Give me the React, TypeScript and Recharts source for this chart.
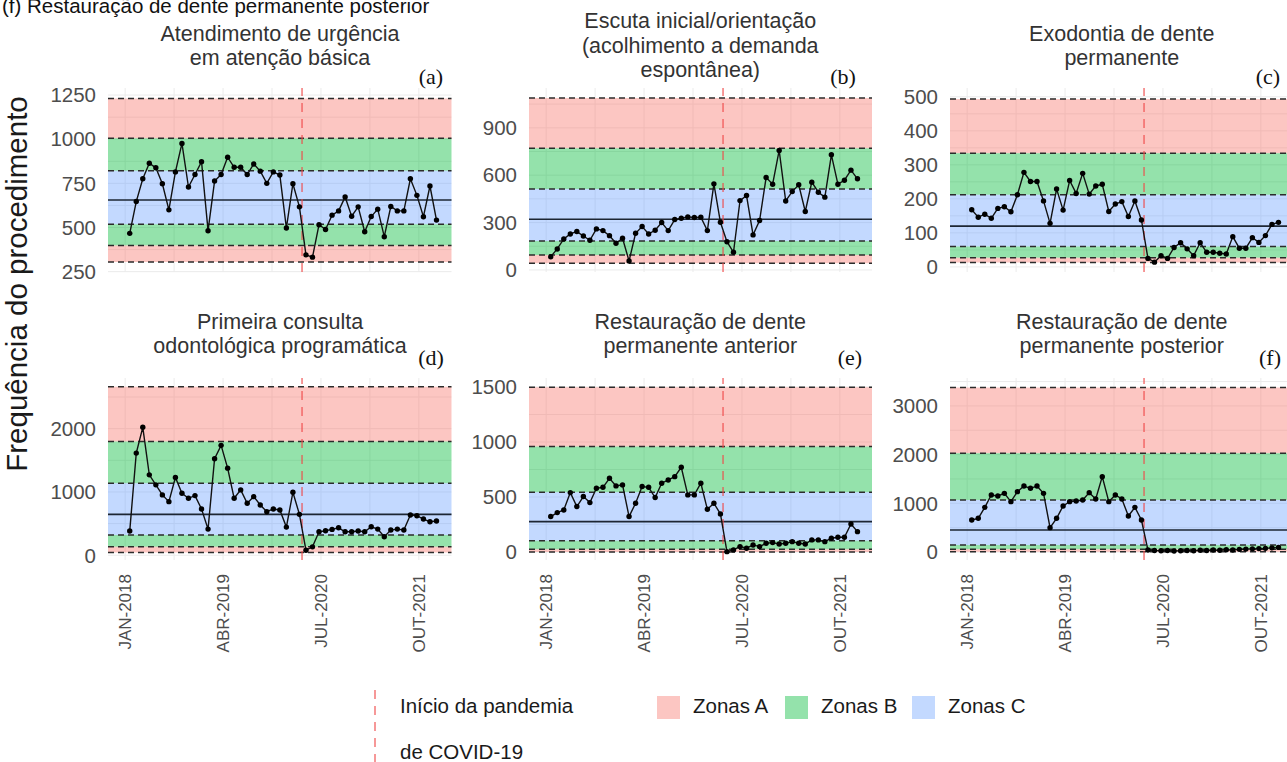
import React from "react";
import {
  ComposedChart,
  Line,
  XAxis,
  YAxis,
  CartesianGrid,
  ReferenceArea,
  ReferenceLine,
} from "recharts";

// eixo x = indice do mes (0 = JAN-2018 ... 47 = DEZ-2021)
const xTickValues = [-0.7, 14.3, 29.3, 44.3];
const xTickLabels = ["JAN-2018", "ABR-2019", "JUL-2020", "OUT-2021"];
const xMinor = [6.8, 21.8, 36.8];
const inicioPandemia = 26.4;

// series mensais
const urgencia = [467, 647, 776, 864, 838, 748, 600, 815, 976, 729, 800, 873, 482, 763, 800, 898, 841, 841, 800, 860, 819, 750, 815, 797, 497, 748, 617, 345, 332, 516, 489, 570, 594, 673, 564, 617, 476, 562, 604, 448, 619, 594, 594, 776, 682, 561, 735, 542];
const escuta = [84, 133, 196, 228, 243, 215, 188, 260, 249, 217, 169, 201, 57, 232, 275, 228, 251, 300, 249, 319, 327, 336, 332, 334, 249, 545, 302, 179, 112, 439, 471, 222, 313, 585, 543, 757, 437, 496, 539, 370, 556, 492, 461, 729, 543, 568, 632, 577];
const exodontia = [168, 146, 155, 143, 172, 177, 162, 212, 278, 251, 251, 194, 128, 229, 167, 254, 216, 275, 214, 238, 243, 163, 185, 192, 148, 194, 138, 25, 14, 33, 25, 57, 71, 53, 33, 71, 43, 43, 40, 38, 89, 55, 55, 86, 72, 92, 125, 131];
const primeiraConsulta = [382, 1614, 2021, 1270, 1112, 953, 847, 1228, 979, 900, 942, 731, 413, 1524, 1736, 1376, 900, 1032, 821, 926, 794, 688, 731, 715, 445, 995, 646, 80, 133, 371, 387, 408, 434, 371, 371, 382, 371, 450, 413, 292, 398, 413, 398, 636, 625, 572, 530, 540];
const restAnterior = [322, 358, 382, 540, 413, 504, 449, 579, 588, 670, 601, 610, 322, 443, 595, 588, 495, 625, 655, 685, 770, 519, 519, 625, 388, 443, 346, 3, 19, 49, 34, 64, 49, 79, 85, 73, 79, 94, 79, 73, 110, 110, 94, 125, 134, 134, 255, 185];
const restPosterior = [657, 692, 917, 1171, 1150, 1205, 1034, 1239, 1356, 1308, 1356, 1205, 500, 692, 945, 1034, 1048, 1068, 1219, 1089, 1547, 1034, 1171, 1089, 740, 917, 657, 40, 30, 25, 30, 20, 25, 30, 25, 35, 30, 40, 35, 45, 40, 55, 60, 65, 70, 75, 85, 95];

// limites: LIC3, LIC2, LIC1, LC, LSC1, LSC2, LSC3
const urgenciaLim = [304, 398, 519, 656, 822, 1005, 1231];
const escutaLim = [42, 95, 184, 321, 513, 771, 1088];
const exodontiaLim = [13, 27, 60, 120, 212, 334, 494];
const primeiraLim = [45, 135, 320, 646, 1137, 1795, 2660];
const anteriorLim = [0, 25, 103, 276, 543, 958, 1497];
const posteriorLim = [7, 55, 144, 452, 1068, 2026, 3380];

const urgenciaTicks = [250, 500, 750, 1000, 1250];
const escutaTicks = [0, 300, 600, 900];
const exodontiaTicks = [0, 100, 200, 300, 400, 500];
const primeiraTicks = [0, 1000, 2000];
const anteriorTicks = [0, 500, 1000, 1500];
const posteriorTicks = [0, 1000, 2000, 3000];

const FONT = "'Liberation Sans', Arial, sans-serif";
const SERIF = "'Liberation Serif', 'Times New Roman', serif";
const COR_A = "#F8766D";
const COR_B = "#00BA38";
const COR_C = "#619CFF";

const X_DOMAIN = [-3.33, 49.3];
const PLOT_W = 343.5;
const Y_AXIS_W = 90;
const MARGEM = 16;
const colLeft = [108.3, 528.5, 950];
const rowTop = [88, 378];
const rowH = [184, 182];

const paineis = [
  { titulo: ["Atendimento de urgência", "em atenção básica"], letra: "(a)", valores: urgencia, lim: urgenciaLim, ticks: urgenciaTicks, dominio: [248, 1290], col: 0, row: 0, letraX: 431 },
  { titulo: ["Escuta inicial/orientação", "(acolhimento a demanda", "espontânea)"], letra: "(b)", valores: escuta, lim: escutaLim, ticks: escutaTicks, dominio: [-13, 1152], col: 1, row: 0, letraX: 843 },
  { titulo: ["Exodontia de dente", "permanente"], letra: "(c)", valores: exodontia, lim: exodontiaLim, ticks: exodontiaTicks, dominio: [-15, 526], col: 2, row: 0, letraX: 1268 },
  { titulo: ["Primeira consulta", "odontológica programática"], letra: "(d)", valores: primeiraConsulta, lim: primeiraLim, ticks: primeiraTicks, dominio: [-75, 2800], col: 0, row: 1, letraX: 431 },
  { titulo: ["Restauração de dente", "permanente anterior"], letra: "(e)", valores: restAnterior, lim: anteriorLim, ticks: anteriorTicks, dominio: [-73, 1582], col: 1, row: 1, letraX: 850 },
  { titulo: ["Restauração de dente", "permanente posterior"], letra: "(f)", valores: restPosterior, lim: posteriorLim, ticks: posteriorTicks, dominio: [-164, 3573], col: 2, row: 1, letraX: 1270 },
];

function TickRotado(props: any) {
  const { x, y, payload } = props;
  const idx = xTickValues.findIndex((t) => Math.abs(t - payload.value) < 0.01);
  return (
    <text
      x={x}
      y={y}
      transform={`rotate(-90 ${x} ${y})`}
      textAnchor="end"
      dy="0.35em"
      fill="#4d4d4d"
      fontSize={17}
      fontFamily={FONT}
    >
      {xTickLabels[idx]}
    </text>
  );
}

function Painel({ p }: { p: any }) {
  const data = p.valores.map((v: number, i: number) => ({ mes: i, valor: v }));
  const [l3, l2, l1, lc, u1, u2, u3] = p.lim;
  const comEixoX = p.row === 1;
  const alturaX = comEixoX ? 110 : 0;
  const passo = p.ticks[1] - p.ticks[0];
  const hGrid: number[] = [];
  for (let v = p.ticks[0] - passo; v <= p.dominio[1]; v += passo / 2) {
    if (v >= p.dominio[0]) hGrid.push(v);
  }
  const area = (y1: number, y2: number, cor: string, op: number) => (
    <ReferenceArea y1={y1} y2={y2} fill={cor} fillOpacity={op} stroke="none" ifOverflow="visible" />
  );
  const tracejada = (y: number) => (
    <ReferenceLine y={y} stroke="#2b2b2b" strokeWidth={1.5} strokeDasharray="6 4" />
  );
  return (
    <div style={{ position: "absolute", left: colLeft[p.col] - Y_AXIS_W, top: rowTop[p.row] - MARGEM }}>
      <ComposedChart
        width={Y_AXIS_W + PLOT_W}
        height={rowH[p.row] + alturaX + 2 * MARGEM}
        data={data}
        margin={{ top: MARGEM, right: 0, bottom: MARGEM, left: 0 }}
      >
        <CartesianGrid
          stroke="#ebebeb"
          verticalValues={[...xTickValues, ...xMinor]}
          horizontalValues={hGrid}
        />
        <XAxis
          dataKey="mes"
          type="number"
          domain={X_DOMAIN}
          ticks={xTickValues}
          interval={0}
          allowDataOverflow
          hide={!comEixoX}
          height={alturaX}
          axisLine={false}
          tickLine={false}
          tickSize={0}
          tickMargin={14}
          tick={<TickRotado />}
        />
        <YAxis
          type="number"
          domain={p.dominio}
          ticks={p.ticks}
          interval={0}
          allowDataOverflow
          width={Y_AXIS_W}
          axisLine={false}
          tickLine={false}
          tickSize={0}
          tickMargin={12}
          tick={{ fill: "#4d4d4d", fontSize: 20.5, fontFamily: FONT }}
        />
        {area(u2, u3, COR_A, 0.42)}
        {area(u1, u2, COR_B, 0.42)}
        {area(lc, u1, COR_C, 0.38)}
        {area(l1, lc, COR_C, 0.38)}
        {area(l2, l1, COR_B, 0.42)}
        {area(l3, l2, COR_A, 0.42)}
        {tracejada(u3)}
        {tracejada(u2)}
        {tracejada(u1)}
        {tracejada(l1)}
        {tracejada(l2)}
        {tracejada(l3)}
        <ReferenceLine y={lc} stroke="#1d2633" strokeWidth={1.6} />
        <ReferenceLine
          x={inicioPandemia}
          stroke="#F04848"
          strokeOpacity={0.7}
          strokeWidth={1.6}
          strokeDasharray="9 7"
        />
        <Line
          type="linear"
          dataKey="valor"
          stroke="#111"
          strokeWidth={1.4}
          dot={{ r: 2.7, fill: "#000", stroke: "none" }}
          isAnimationActive={false}
        />
      </ComposedChart>
    </div>
  );
}

function Titulo({ p }: { p: any }) {
  const centroX = colLeft[p.col] + PLOT_W / 2;
  const centroY = p.row === 0 ? 46 : 334;
  const lh = 24.5;
  const h = p.titulo.length * lh;
  return (
    <div
      style={{
        position: "absolute",
        left: centroX - 200,
        width: 400,
        top: centroY - h / 2,
        textAlign: "center",
        fontFamily: FONT,
        fontSize: 21.5,
        lineHeight: `${lh}px`,
        color: "#333",
      }}
    >
      {p.titulo.map((t: string, i: number) => (
        <div key={i}>{t}</div>
      ))}
    </div>
  );
}

function Letra({ p }: { p: any }) {
  const y = p.row === 0 ? 77 : 358;
  return (
    <div
      style={{
        position: "absolute",
        left: p.letraX - 30,
        width: 60,
        top: y - 12,
        lineHeight: "24px",
        textAlign: "center",
        fontFamily: SERIF,
        fontSize: 22,
        color: "#111",
      }}
    >
      {p.letra}
    </div>
  );
}

function Legenda() {
  const itens = [
    { nome: "Zonas A", cor: COR_A, op: 0.42, x: 657 },
    { nome: "Zonas B", cor: COR_B, op: 0.42, x: 785 },
    { nome: "Zonas C", cor: COR_C, op: 0.38, x: 912 },
  ];
  const txt = { position: "absolute" as const, fontFamily: FONT, fontSize: 20.5, color: "#1a1a1a", lineHeight: "24px", whiteSpace: "nowrap" as const };
  return (
    <>
      <svg style={{ position: "absolute", left: 365, top: 690 }} width={20} height={80}>
        <line x1={10} y1={0} x2={10} y2={80} stroke="#F04848" strokeOpacity={0.7} strokeWidth={1.6} strokeDasharray="9 7" />
      </svg>
      <div style={{ ...txt, left: 400, top: 694 }}>Início da pandemia</div>
      <div style={{ ...txt, left: 400, top: 740 }}>de COVID-19</div>
      {itens.map((it) => (
        <React.Fragment key={it.nome}>
          <svg style={{ position: "absolute", left: it.x, top: 696 }} width={23} height={23}>
            <rect x={0} y={0} width={23} height={23} fill={it.cor} fillOpacity={it.op} />
          </svg>
          <div style={{ ...txt, left: it.x + 36, top: 694 }}>{it.nome}</div>
        </React.Fragment>
      ))}
    </>
  );
}

export default function App() {
  return (
    <div
      style={{
        position: "absolute",
        left: 0,
        top: 0,
        width: 1287,
        height: 762,
        overflow: "hidden",
        background: "#fff",
        fontFamily: FONT,
      }}
    >
      <div
        style={{
          position: "absolute",
          left: 2,
          top: -5,
          fontSize: 20.5,
          lineHeight: "21px",
          color: "#111",
          whiteSpace: "nowrap",
        }}
      >
        (f) Restauração de dente permanente posterior
      </div>
      <div
        style={{
          position: "absolute",
          left: 17 - 250,
          top: 284 - 17,
          width: 500,
          height: 34,
          lineHeight: "34px",
          textAlign: "center",
          transform: "rotate(-90deg)",
          fontSize: 29.5,
          color: "#1a1a1a",
          whiteSpace: "nowrap",
        }}
      >
        Frequência do procedimento
      </div>
      {paineis.map((p, i) => (
        <React.Fragment key={i}>
          <Painel p={p} />
          <Titulo p={p} />
          <Letra p={p} />
        </React.Fragment>
      ))}
      <Legenda />
    </div>
  );
}
